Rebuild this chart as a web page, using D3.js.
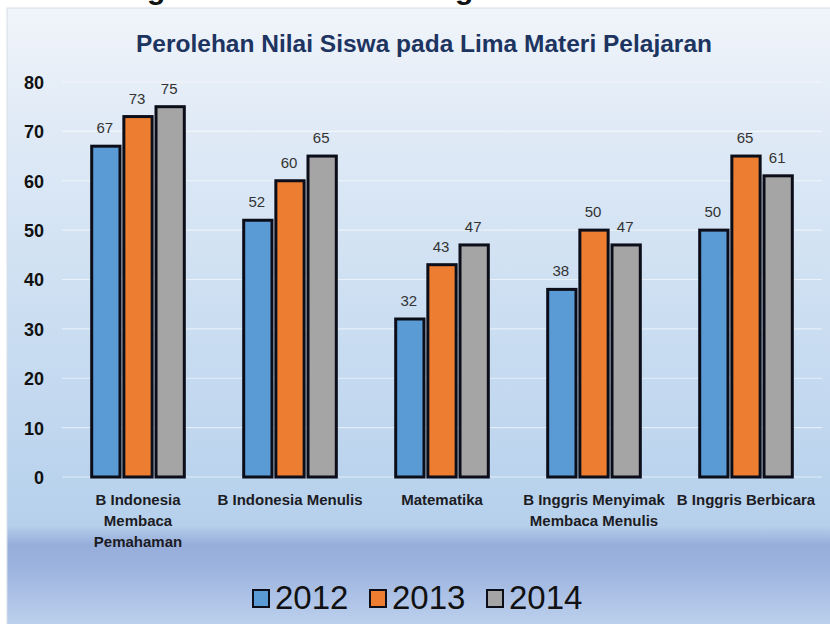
<!DOCTYPE html>
<html>
<head>
<meta charset="utf-8">
<script src="https://cdn.jsdelivr.net/npm/d3@7"></script>
<style>
	body { margin: 0; background: #ffffff; }
	svg { display: block; }
</style>
</head>
<body>
<svg id="chart" width="830" height="624"></svg>
<script>

// chart values
const title = "Perolehan Nilai Siswa pada Lima Materi Pelajaran";
const categories = [
	"B Indonesia\nMembaca\nPemahaman",
	"B Indonesia Menulis",
	"Matematika",
	"B Inggris Menyimak\nMembaca Menulis",
	"B Inggris Berbicara"
];
const years = ["2012", "2013", "2014"];
const values2012 = [67, 52, 32, 38, 50];
const values2013 = [73, 60, 43, 50, 65];
const values2014 = [75, 65, 47, 47, 61];
const yTicks = [0, 10, 20, 30, 40, 50, 60, 70, 80];

const series = [values2012, values2013, values2014];
const colors = ["#5b9bd5", "#ed7d31", "#a5a5a5"];

const svg = d3.select("#chart");

// heading above the panel, cut by the top edge as in the picture
const top_g = svg.append("g");
top_g.selectAll("text")
	.data([147, 455])
	.enter()
	.append("text")
		.attr("x", d => d)
		.attr("y", -1)
		.text("g")
		.style("font-family", "'Liberation Sans', Arial, sans-serif")
		.style("font-weight", "bold")
		.style("font-size", "30px")
		.style("fill", "#111");

// panel background
const defs = svg.append("defs");
const bg = defs.append("linearGradient")
	.attr("id", "bg-gradient")
	.attr("x1", "0%").attr("y1", "0%")
	.attr("x2", "0%").attr("y2", "100%");

const bg_stops = [
	[0, "#f1f5fa"], [0.15, "#e3ecf7"], [0.47, "#cddff2"], [0.77, "#bad3ed"],
	[0.835, "#b6cfeb"], [0.865, "#97aedb"], [0.9, "#9bb2de"], [1, "#bed2ee"]
];
bg.selectAll("stop")
	.data(bg_stops)
	.enter()
	.append("stop")
		.attr("offset", d => d[0])
		.attr("stop-color", d => d[1]);

svg.append("rect")
	.attr("x", 7)
	.attr("y", 8)
	.attr("width", 830)
	.attr("height", 620)
	.style("fill", "url(#bg-gradient)")
	.style("stroke", "#d8dee6")
	.style("stroke-width", 1);

// scales
const x0 = d3.scaleBand()
	.domain(categories)
	.range([62, 822])
	.paddingInner(0.34)
	.paddingOuter(0.17);

const x1 = d3.scaleBand()
	.domain(years)
	.range([0, x0.bandwidth()])
	.padding(0.12);

const y = d3.scaleLinear()
	.domain([0, 80])
	.range([477, 82]);

// gridlines
svg.append("g")
	.selectAll("line")
	.data(yTicks)
	.enter()
	.append("line")
		.attr("x1", 62)
		.attr("x2", 822)
		.attr("y1", d => y(d))
		.attr("y2", d => y(d))
		.style("stroke", "#ffffff")
		.style("stroke-opacity", 0.55)
		.style("stroke-width", 1.2);

// y axis labels
const y_axis = d3.axisLeft(y)
	.tickValues(yTicks)
	.tickSize(0)
	.tickPadding(0);

const y_g = svg.append("g")
	.attr("transform", "translate(44,0)")
	.call(y_axis);
y_g.select(".domain").remove();
y_g.selectAll("text")
	.attr("dy", "0.36em")
	.style("font-family", "'Liberation Sans', Arial, sans-serif")
	.style("font-weight", "bold")
	.style("font-size", "18px")
	.style("fill", "#111");

// bars
const groups = svg.append("g")
	.selectAll("g")
	.data(categories)
	.enter()
	.append("g")
		.attr("transform", d => "translate(" + x0(d) + ",0)");

const bar_data = (d, i) => years.map((yr, k) => ({year: yr, value: series[k][i], color: colors[k]}));

groups.selectAll("rect")
	.data(bar_data)
	.enter()
	.append("rect")
		.attr("x", d => x1(d.year))
		.attr("y", d => y(d.value))
		.attr("width", x1.bandwidth())
		.attr("height", d => y(0) - y(d.value))
		.style("fill", d => d.color)
		.style("stroke", "#0b0d18")
		.style("stroke-width", 3);

// value labels
groups.selectAll("text")
	.data(bar_data)
	.enter()
	.append("text")
		.attr("x", d => x1(d.year) + x1.bandwidth() / 2 - 1)
		.attr("y", d => y(d.value) - 13)
		.attr("text-anchor", "middle")
		.text(d => d.value)
		.style("font-family", "'Liberation Sans', Arial, sans-serif")
		.style("font-size", "15px")
		.style("fill", "#333");

// category labels
const cat_g = svg.append("g");
categories.forEach(c => {
	const t = cat_g.append("text")
		.attr("text-anchor", "middle")
		.style("font-family", "'Liberation Sans', Arial, sans-serif")
		.style("font-weight", "bold")
		.style("font-size", "15px")
		.style("fill", "#1c1c24");
	c.split("\n").forEach((line, k) => {
		t.append("tspan")
			.attr("x", x0(c) + x0.bandwidth() / 2)
			.attr("y", 505 + k * 21)
			.text(line);
	});
});

// title
svg.append("text")
	.attr("x", 424)
	.attr("y", 52)
	.attr("text-anchor", "middle")
	.text(title)
	.style("font-family", "'Liberation Sans', Arial, sans-serif")
	.style("font-weight", "bold")
	.style("font-size", "24.5px")
	.style("fill", "#1d3461");

// legend
const legend_x = d3.scalePoint()
	.domain(years)
	.range([253, 487]);

const legend = svg.append("g")
	.selectAll("g")
	.data(years)
	.enter()
	.append("g")
		.attr("transform", d => "translate(" + legend_x(d) + ",590)");

legend.append("rect")
	.attr("width", 16)
	.attr("height", 17)
	.style("fill", (d, i) => colors[i])
	.style("stroke", "#0b0d18")
	.style("stroke-width", 2);

legend.append("text")
	.attr("x", 22)
	.attr("y", 18.5)
	.text(d => d)
	.style("font-family", "'Liberation Sans', Arial, sans-serif")
	.style("font-size", "33px")
	.style("fill", "#111");

</script>
</body>
</html>
